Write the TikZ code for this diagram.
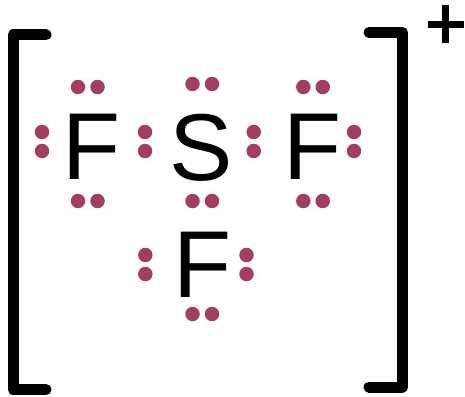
\documentclass[tikz,border=0pt]{standalone}
\usepackage{fontspec}
\setmainfont{Liberation Sans}
\definecolor{dotcol}{HTML}{A33D62}
\tikzset{
  elem/.style={inner sep=0pt,outer sep=0pt,anchor=base,font=\fontsize{95}{95}\selectfont,text=black},
  dotp/.style={circle,fill=dotcol,draw=none,minimum size=14.5pt,inner sep=0pt},
  brk/.style={draw=black,line width=11pt,line cap=round,line join=round},
  plusbar/.style={draw=black,line width=7pt}
}
\begin{document}
\begin{tikzpicture}[x=1pt,y=-1pt]
\useasboundingbox (0,0) rectangle (465,396);
\node[elem] (f1) at (92,179) {F};
\node[elem] (s) at (201,180) {S};
\node[elem] (f2) at (313,179) {F};
\node[elem] (f3) at (202.5,297) {F};
\foreach \x/\y in {78/87,97.5/87,42/132,42/151,145/132,145/151,78/201,97.5/201,
  192.5/84,212/84,192.5/201,212/201,
  303.3/87,322.7/87,253.7/132,253.7/151,354/132,354/151,303.3/201,322.7/201,
  145.3/255,145.3/274,246.5/255,246.5/274,192.5/314,212/314}
  \node[dotp] at (\x,\y) {};
\draw[brk] (46,35) -- (13,35) -- (13,389.5) -- (46,389.5);
\draw[brk] (369,32.5) -- (402.5,32.5) -- (402.5,387) -- (369,387);
\draw[plusbar] (428,24.3) -- (463.5,24.3);
\draw[plusbar] (445.7,5) -- (445.7,43);
\end{tikzpicture}
\end{document}
